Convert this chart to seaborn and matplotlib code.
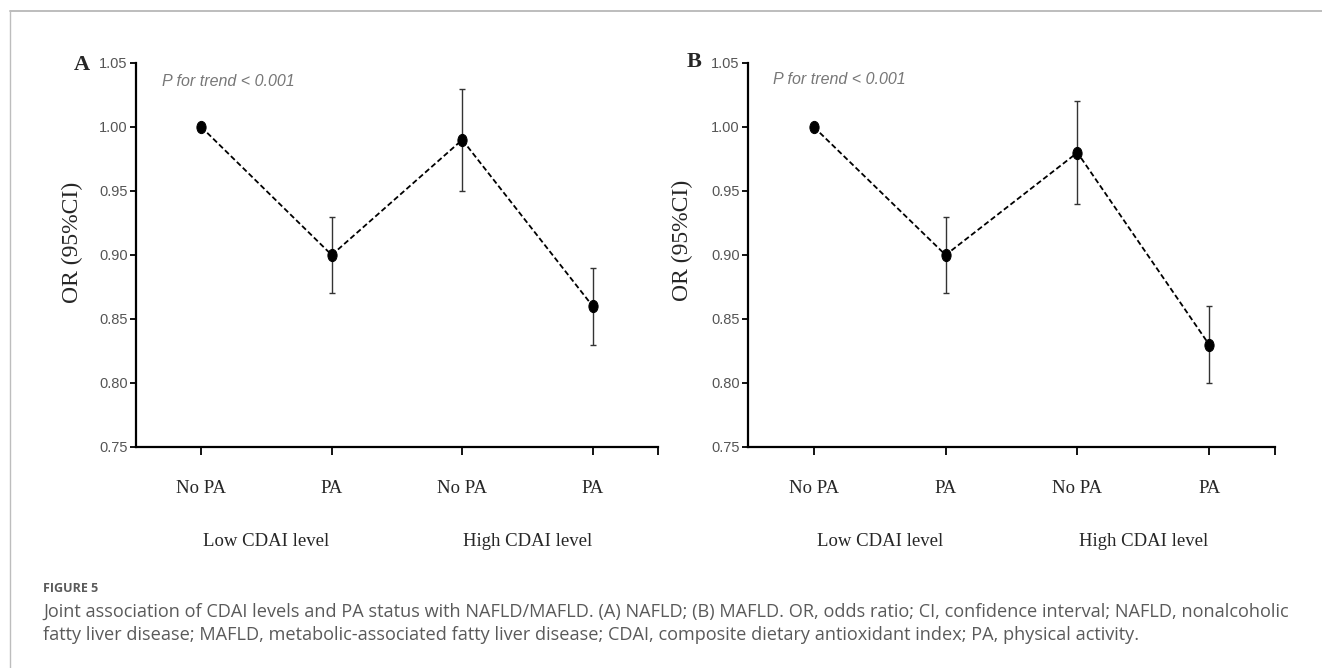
import matplotlib
matplotlib.use("Agg")
import matplotlib.pyplot as plt
import numpy as np
import pandas as pd
import seaborn as sns
from matplotlib.path import Path
from matplotlib.transforms import Affine2D

# data
pa_labels = ["No PA", "PA", "No PA", "PA"]
cdai_groups = ["Low CDAI level", "Low CDAI level", "High CDAI level", "High CDAI level"]
or_nafld = [1.00, 0.90, 0.99, 0.86]
low_nafld = [1.00, 0.87, 0.95, 0.83]
high_nafld = [1.00, 0.93, 1.03, 0.89]
or_mafld = [1.00, 0.90, 0.98, 0.83]
low_mafld = [1.00, 0.87, 0.94, 0.80]
high_mafld = [1.00, 0.93, 1.02, 0.86]
y_ticks = [0.75, 0.80, 0.85, 0.90, 0.95, 1.00, 1.05]
trend_text = "P for trend < 0.001"
caption_head = "FIGURE 5"
caption_lines = [
    "Joint association of CDAI levels and PA status with NAFLD/MAFLD. (A) NAFLD; (B) MAFLD. OR, odds ratio; CI, confidence interval; NAFLD, nonalcoholic",
    "fatty liver disease; MAFLD, metabolic-associated fatty liver disease; CDAI, composite dietary antioxidant index; PA, physical activity.",
]

sns.set_style("ticks")
plt.rcParams["font.family"] = ["Liberation Serif", "DejaVu Serif"]

W, H = 1322, 668
fig = plt.figure(figsize=(W / 100, H / 100), dpi=100)

sans = ["Liberation Sans", "DejaVu Sans"]
ellipse = Affine2D().scale(0.75, 1.0).transform_path(Path.unit_circle())


def px(x, y):
    return x / W, 1 - y / H


def draw_panel(rect, letter, est, lo, hi, letter_xy, trend_xy, ylab_xy):
    ax = fig.add_axes(rect)
    df = pd.DataFrame({"pos": np.arange(len(est)), "OR": est,
                       "lo": lo, "hi": hi, "group": cdai_groups})
    sub = df[df["lo"] != df["hi"]]
    ax.errorbar(sub["pos"], sub["OR"],
                yerr=[sub["OR"] - sub["lo"], sub["hi"] - sub["OR"]],
                fmt="none", ecolor="#333333", elinewidth=1.0, capsize=2.3,
                capthick=1.0, zorder=2)
    sns.lineplot(data=df, x="pos", y="OR", ax=ax, color="black",
                 linewidth=1.3, dashes=False, zorder=3)
    ax.lines[-1].set_dashes([3, 1.6])
    sns.scatterplot(data=df, x="pos", y="OR", ax=ax, color="black",
                    marker=ellipse, s=78, edgecolor="black", zorder=4)

    ax.set_xlim(-0.5, 3.5)
    ax.set_ylim(0.75, 1.05)
    ax.set_yticks(y_ticks)
    ax.set_yticklabels([f"{v:.2f}" for v in y_ticks], family=sans,
                       fontsize=10.5, color="#555555")
    ax.set_xticks(list(df["pos"]) + [3.5])
    ax.set_xticklabels(pa_labels + [""], fontsize=13.5)
    ax.tick_params(axis="y", length=4, width=1.3, pad=2, color="black")
    ax.tick_params(axis="x", length=6, width=1.3, pad=18, color="black")
    ax.set_xlabel("")
    ax.set_ylabel("")
    sns.despine(ax=ax)
    for s in ("left", "bottom"):
        ax.spines[s].set_linewidth(1.6)
        ax.spines[s].set_color("black")

    for g in dict.fromkeys(cdai_groups):
        cx = df.loc[df["group"] == g, "pos"].mean()
        ax.annotate(g, xy=(cx, 0), xycoords=ax.get_xaxis_transform(),
                    xytext=(0, -95 * 0.72), textcoords="offset points",
                    ha="center", va="center", fontsize=13.5)

    fig.text(*px(*letter_xy), letter, fontsize=16, fontweight="bold",
             ha="center", va="center")
    fig.text(*px(*trend_xy), trend_text, family=sans, style="italic",
             fontsize=11.5, color="#777777", ha="left", va="center")
    fig.text(*px(*ylab_xy), "OR (95%CI)", fontsize=17, rotation=90,
             ha="center", va="center")
    return ax


l, b = px(136, 447)
r, t = px(658, 63)
draw_panel([l, b, r - l, t - b], "A", or_nafld, low_nafld, high_nafld,
           (82, 65), (162, 82), (72, 242))
l, b = px(748, 447)
r, t = px(1275, 63)
draw_panel([l, b, r - l, t - b], "B", or_mafld, low_mafld, high_mafld,
           (694, 62), (773, 79), (682, 240))

# frame lines of the figure box
fig.add_artist(plt.Line2D([10 / W, 1], [1 - 11 / H] * 2, color="#bdbdbd", lw=1.4))
fig.add_artist(plt.Line2D([10 / W] * 2, [0, 1 - 11 / H], color="#bdbdbd", lw=1.0))

cap = ["Open Sans", "DejaVu Sans"]
fig.text(*px(43, 588), caption_head, family=cap, fontsize=9, fontweight="bold",
         color="#5a5a5a", ha="left", va="center")
fig.text(*px(43, 612), caption_lines[0], family=cap, fontsize=13.1,
         color="#5a5a5a", ha="left", va="center")
fig.text(*px(43, 635), caption_lines[1], family=cap, fontsize=13.1,
         color="#5a5a5a", ha="left", va="center")

fig.savefig("out.png", dpi=100)
